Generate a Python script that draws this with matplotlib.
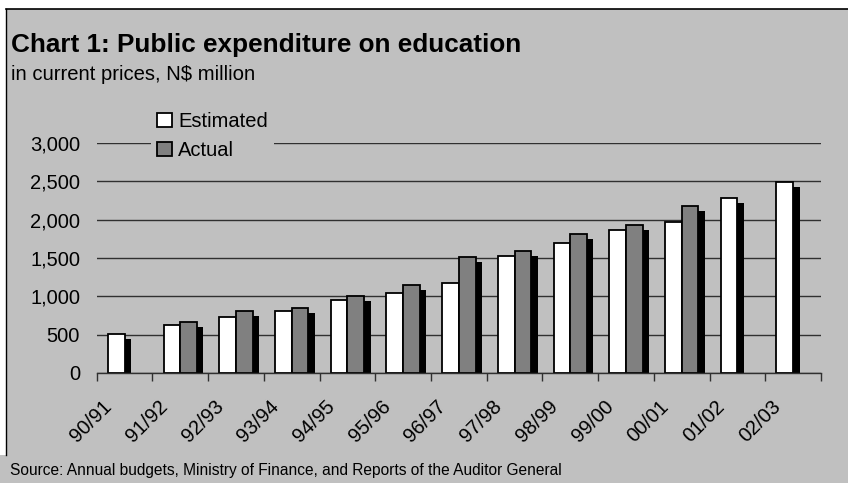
import numpy as np
import matplotlib
matplotlib.use('Agg')
import matplotlib.pyplot as plt
from matplotlib.patches import Rectangle
from matplotlib.lines import Line2D
from matplotlib.ticker import FuncFormatter

plt.rcParams['font.family'] = ['Liberation Sans', 'DejaVu Sans']

years = ['90/91', '91/92', '92/93', '93/94', '94/95', '95/96', '96/97',
         '97/98', '98/99', '99/00', '00/01', '01/02', '02/03']
estimated = [510, 627, 735, 809, 953, 1048, 1175, 1527, 1700, 1862, 1966, 2280, 2490]
actual = [None, 666, 813, 848, 1009, 1148, 1510, 1588, 1810, 1935, 2175, None, None]

BG = '#C0C0C0'
W, H = 848, 483
fig = plt.figure(figsize=(W / 100, H / 100), dpi=100, facecolor=BG)

# white margin + frame lines (top and left)
fig.patches.append(Rectangle((0, 1 - 8.5 / H), 1, 8.5 / H, transform=fig.transFigure,
                             facecolor='white', edgecolor='none', zorder=0))
fig.patches.append(Rectangle((0, 1 - 455 / H), 5.5 / W, (455 - 8.5) / H, transform=fig.transFigure,
                             facecolor='white', edgecolor='none', zorder=0))
fig.lines.append(Line2D([5.5 / W, 1], [1 - 8.5 / H] * 2, transform=fig.transFigure, color='black', lw=1.2))
fig.lines.append(Line2D([5.5 / W] * 2, [1 - 8.5 / H, 1 - 455 / H], transform=fig.transFigure, color='black', lw=1.0))

ax = fig.add_axes([96.7 / W, 1 - 373 / H, (821 - 96.7) / W, (373 - 143) / H])
ax.set_facecolor(BG)

x = np.arange(len(years))
bw = 0.3
dx, dy = 0.115, 68   # drop-shadow offset (categories, N$ million)

est_x = x - bw / 2
act_idx = [i for i, v in enumerate(actual) if v is not None]
act_x = np.array([x[i] + bw / 2 for i in act_idx])
act_v = np.array([actual[i] for i in act_idx])

# shadows first, then bars on top
ax.bar(est_x + dx, np.array(estimated) - dy, bw, color='black', zorder=2)
ax.bar(act_x + dx, act_v - dy, bw, color='black', zorder=2)
ax.bar(est_x, estimated, bw, color='white', edgecolor='black', linewidth=1.3, zorder=3)
ax.bar(act_x, act_v, bw, color='#808080', edgecolor='black', linewidth=1.3, zorder=3)

ax.set_xlim(-0.5, len(years) - 0.5)
ax.set_ylim(0, 3000)
ax.set_yticks(np.arange(0, 3001, 500))
ax.yaxis.set_major_formatter(FuncFormatter(lambda v, p: f'{int(v):,}'))
ax.grid(axis='y', color='#303030', linewidth=1.0, zorder=1)
ax.set_axisbelow(True)

for s in ['left', 'right', 'top']:
    ax.spines[s].set_visible(False)
ax.spines['bottom'].set_color('#303030')
ax.spines['bottom'].set_linewidth(1.0)
ax.spines['bottom'].set_zorder(4)

ax.tick_params(axis='y', length=0, pad=12, labelsize=14.5)
ax.set_xticks(np.arange(len(years) + 1) - 0.5)
ax.set_xticklabels([])
# labels sit a little left of each category centre
ax.set_xticks(x - 0.28, minor=True)
ax.set_xticklabels(years, minor=True, rotation=45, ha='right', va='center',
                   rotation_mode='anchor', fontsize=14.5)
ax.tick_params(axis='x', which='major', direction='out', length=6, width=1.0, color='#303030')
ax.tick_params(axis='x', which='minor', length=0, pad=22)

handles = [Rectangle((0, 0), 1, 1, facecolor='white', edgecolor='black', linewidth=1.3),
           Rectangle((0, 0), 1, 1, facecolor='#808080', edgecolor='black', linewidth=1.3)]
leg = fig.legend(handles, ['Estimated', 'Actual'], loc='upper left',
                 bbox_to_anchor=(151 / W, 1 - 106 / H), frameon=True, facecolor=BG,
                 edgecolor='none', framealpha=1, fancybox=False, fontsize=14.5,
                 handlelength=0.75, handleheight=0.75, handletextpad=0.3,
                 labelspacing=0.5, borderpad=0.3, borderaxespad=0)
leg.set_zorder(5)

fig.text(11 / W, 1 - 52 / H, 'Chart 1: Public expenditure on education',
         fontsize=18.8, fontweight='bold', ha='left', va='baseline')
fig.text(11 / W, 1 - 80 / H, 'in current prices, N$ million',
         fontsize=14.6, ha='left', va='baseline')
fig.text(10 / W, 1 - 475 / H,
         'Source: Annual budgets, Ministry of Finance, and Reports of the Auditor General',
         fontsize=11.2, ha='left', va='baseline')

fig.savefig('out.png', dpi=100, facecolor=BG)
